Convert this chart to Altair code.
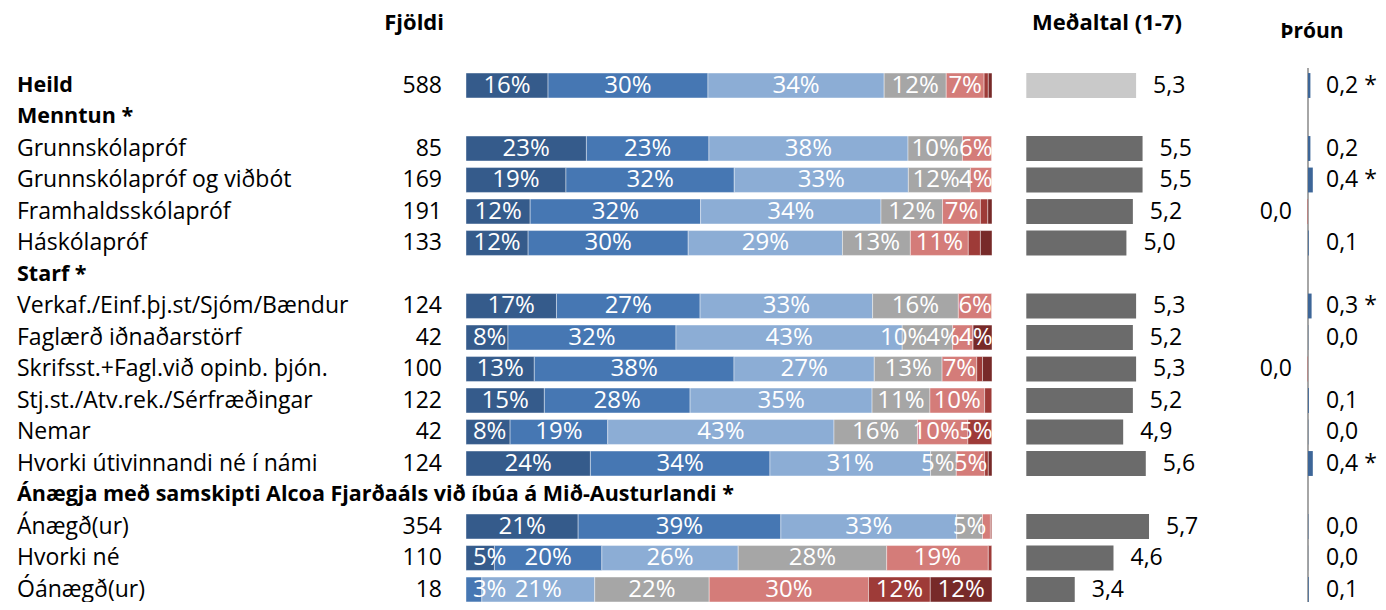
import altair as alt
import pandas as pd

# ---------------- data ----------------
ROW_LABELS = [
    "Heild", "Menntun *", "Grunnskólapróf", "Grunnskólapróf og viðbót",
    "Framhaldsskólapróf", "Háskólapróf", "Starf *",
    "Verkaf./Einf.þj.st/Sjóm/Bændur", "Faglærð iðnaðarstörf",
    "Skrifsst.+Fagl.við opinb. þjón.", "Stj.st./Atv.rek./Sérfræðingar",
    "Nemar", "Hvorki útivinnandi né í námi",
    "Ánægja með samskipti Alcoa Fjarðaáls við íbúa á Mið-Austurlandi *",
    "Ánægð(ur)", "Hvorki né", "Óánægð(ur)",
]
ROW_BOLD = [True, True, False, False, False, False, True, False, False,
            False, False, False, False, True, False, False, False]
DATA_ROWS = [0, 2, 3, 4, 5, 7, 8, 9, 10, 11, 12, 14, 15, 16]

COUNTS = [588, 85, 169, 191, 133, 124, 42, 100, 122, 42, 124, 354, 110, 18]

CATEGORIES = ["7", "6", "5", "4", "3", "2", "1"]
P1 = [15.6, 22.8, 19.0, 12.2, 11.8, 17.2, 8.0, 13.0, 14.9, 8.4, 23.7, 21.3, 5.4, 0.0]
P2 = [30.4, 23.2, 32.0, 32.4, 30.4, 27.3, 32.0, 38.0, 27.7, 18.6, 34.2, 38.5, 20.4, 3.0]
P3 = [33.5, 37.7, 33.1, 34.3, 29.3, 32.8, 43.1, 26.7, 34.6, 43.1, 30.6, 33.4, 25.9, 21.4]
P4 = [11.8, 10.3, 11.8, 11.7, 12.9, 16.3, 9.6, 12.9, 11.0, 15.9, 4.9, 4.9, 28.2, 21.7]
P5 = [7.2, 5.6, 4.1, 7.2, 11.0, 6.4, 3.9, 6.6, 10.4, 9.6, 5.4, 1.5, 19.3, 30.2]
P6 = [0.8, 0.0, 0.0, 1.4, 2.3, 0.0, 0.0, 1.1, 1.4, 4.6, 0.7, 0.3, 0.7, 11.7]
P7 = [0.7, 0.0, 0.0, 0.8, 2.2, 0.0, 3.6, 1.8, 0.0, 0.0, 0.7, 0.0, 0.0, 11.7]

MEANS = [5.3, 5.5, 5.5, 5.2, 5.0, 5.3, 5.2, 5.3, 5.2, 4.9, 5.6, 5.7, 4.6, 3.4]
TRENDS = [0.2, 0.2, 0.4, -0.04, 0.06, 0.3, 0.02, -0.03, 0.07, 0.02, 0.4, 0.03, 0.01, 0.06]
SIGNIF = [True, False, True, False, False, True, False, False, False, False, True, False, False, False]

COLORS = ["#355B8B", "#4677B3", "#8CADD5", "#A6A6A6", "#D47C79", "#9E3B38", "#772A29"]

HEADERS = ["Fjöldi", "Meðaltal (1-7)", "Þróun"]

# ---------------- tables ----------------
FONT = "Open Sans"
row_ids = [f"r{i:02d}" for i in range(len(ROW_LABELS))]

labels_df = pd.DataFrame({"rid": row_ids, "label": ROW_LABELS, "bold": ROW_BOLD})
data_ids = [row_ids[i] for i in DATA_ROWS]

def fmt1(v):
    return f"{v:.1f}".replace(".", ",").replace("-0,0", "0,0")

main_df = pd.DataFrame({
    "rid": data_ids,
    "count": COUNTS,
    "mean": MEANS,
    "mean_lab": [fmt1(v) for v in MEANS],
    "trend": TRENDS,
    "trend_lab": [fmt1(v) + (" *" if s else "") for v, s in zip(TRENDS, SIGNIF)],
    "zero": [0] * len(DATA_ROWS),
})

pcts = [P1, P2, P3, P4, P5, P6, P7]
long_rows = []
for j, rid in enumerate(data_ids):
    for k, cat in enumerate(CATEGORIES):
        long_rows.append({"rid": rid, "cat": cat, "idx": k, "pct": pcts[k][j]})
stack_df = pd.DataFrame(long_rows)

headers_df = pd.DataFrame({"text": HEADERS, "col": ["count", "mean", "trend"]})

Y = alt.Y("rid:N", scale=alt.Scale(domain=row_ids, range=[61.75, 597.25],
                                  paddingInner=0.21, paddingOuter=0.105), axis=None)

# ---------------- layers ----------------
lab_base = alt.Chart(labels_df)
lab_reg = lab_base.transform_filter("!datum.bold").mark_text(
    align="left", baseline="middle", font=FONT, fontSize=23, color="#000000"
).encode(x=alt.value(9), y=Y, text="label:N")
lab_bold = lab_base.transform_filter("datum.bold").mark_text(
    align="left", baseline="middle", font=FONT, fontSize=21.5, fontWeight="bold", color="#000000"
).encode(x=alt.value(9), y=Y, text="label:N")

base = alt.Chart(main_df)
counts = base.mark_text(align="right", baseline="middle", font=FONT, fontSize=23,
                        color="#000000").encode(x=alt.value(434), y=Y, text="count:Q")

XS = alt.Scale(domain=[0, 1], range=[458, 984])
stacked = alt.Chart(stack_df).transform_stack(
    stack="pct", groupby=["rid"], as_=["x0", "x1"], offset="normalize",
    sort=[alt.SortField("idx", order="ascending")],
)
bars = stacked.mark_bar(stroke="#ffffff", strokeWidth=0.8, strokeOpacity=0.5).encode(
    x=alt.X("x0:Q", scale=XS, axis=None), x2="x1:Q", y=Y,
    color=alt.Color("cat:N", scale=alt.Scale(domain=CATEGORIES, range=COLORS), legend=None),
)

# label placement: centred, kept inside the bar, pushed left when they collide
lab_t = stacked.transform_filter("datum.pct >= 2.5").transform_calculate(
    lab="format(datum.pct, '.0f') + '%'",
).transform_calculate(
    hw="length(datum.lab) == 2 ? 0.031 : 0.044",
).transform_calculate(
    p0="min((datum.x0 + datum.x1) / 2, 1 - datum.hw)",
)
for i in range(3):
    lab_t = lab_t.transform_window(
        **{f"np{i}": f"lead(p{i})", f"nh{i}": f"lead(hw)"},
        groupby=["rid"], sort=[alt.SortField("idx", order="ascending")],
    ).transform_calculate(
        **{f"p{i+1}": f"isValid(datum.np{i}) ? min(datum.p{i}, datum.np{i} - datum.nh{i} - datum.hw) : datum.p{i}"}
    )
bar_labels = lab_t.transform_calculate(
    xm="max(datum.p3, 0.045)",
).mark_text(
    align="center", baseline="middle", font=FONT, fontSize=24, color="#ffffff"
).encode(x=alt.X("xm:Q", scale=XS, axis=None), y=Y, text="lab:N")

MS = alt.Scale(domain=[1.9, 7], range=[1018.3, 1183.0])
mean_bars = base.mark_bar().encode(
    x=alt.X("mean:Q", scale=MS, axis=None), x2=alt.datum(1.9), y=Y,
    color=alt.condition("datum.rid == 'r00'", alt.value("#C9C9C9"), alt.value("#6B6B6B")),
)
mean_labels = base.mark_text(align="left", baseline="middle", dx=17, font=FONT,
                             fontSize=23, color="#000000").encode(
    x=alt.X("mean:Q", scale=MS, axis=None), y=Y, text="mean_lab:N")

TS = alt.Scale(domain=[-1, 1], range=[1288, 1312])
trend_axis = base.mark_rule(color="#A6A6A6", strokeWidth=1.5).encode(
    x=alt.X("zero:Q", scale=TS, axis=None), y=alt.value(60), y2=alt.value(600))
trend_bars = base.mark_bar().encode(
    x=alt.X("trend:Q", scale=TS, axis=None), x2=alt.datum(0), y=Y,
    color=alt.condition("datum.trend >= 0", alt.value("#3D6698"), alt.value("#D0605C")),
)
trend_pos = base.transform_filter("datum.trend >= 0").mark_text(
    align="left", baseline="middle", dx=18, font=FONT, fontSize=23, color="#000000"
).encode(x=alt.X("zero:Q", scale=TS, axis=None), y=Y, text="trend_lab:N")
trend_neg = base.transform_filter("datum.trend < 0").mark_text(
    align="right", baseline="middle", dx=-16, font=FONT, fontSize=23, color="#000000"
).encode(x=alt.X("zero:Q", scale=TS, axis=None), y=Y, text="trend_lab:N")

hdr = alt.Chart(headers_df)
h_count = hdr.transform_filter("datum.col == 'count'").mark_text(
    align="right", baseline="middle", font=FONT, fontSize=22, fontWeight="bold"
).encode(x=alt.value(436), y=alt.value(15), text="text:N")
h_mean = hdr.transform_filter("datum.col == 'mean'").mark_text(
    align="center", baseline="middle", font=FONT, fontSize=22, fontWeight="bold"
).encode(x=alt.value(1099), y=alt.value(15), text="text:N")
h_trend = hdr.transform_filter("datum.col == 'trend'").mark_text(
    align="center", baseline="middle", font=FONT, fontSize=21, fontWeight="bold"
).encode(x=alt.value(1304), y=alt.value(24), text="text:N")

chart = alt.layer(
    lab_reg, lab_bold, counts, bars, bar_labels, mean_bars, mean_labels,
    trend_axis, trend_bars, trend_pos, trend_neg, h_count, h_mean, h_trend,
).resolve_scale(x="independent").properties(
    width=1370, height=594, padding=0,
    autosize=alt.AutoSizeParams(type="none"),
).configure_view(stroke=None)

chart.save("out.html", embed_options={"renderer": "svg", "actions": False})
